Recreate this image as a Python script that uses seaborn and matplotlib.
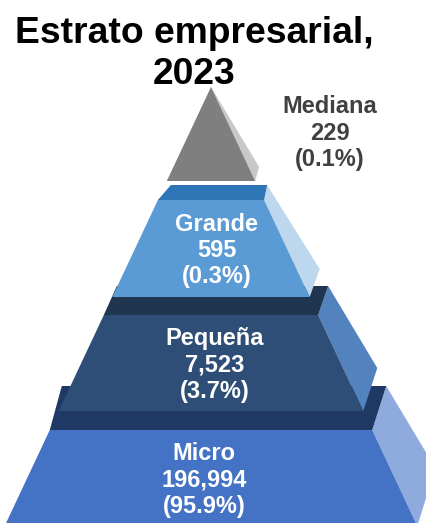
import matplotlib.pyplot as plt
import seaborn as sns
from matplotlib.patches import Polygon

# Datos (de la cúspide a la base)
estratos = ['Mediana', 'Grande', 'Pequeña', 'Micro']
empresas = [229, 595, 7523, 196994]
porcentajes = [0.1, 0.3, 3.7, 95.9]

# Colores: cara frontal, cara superior, cara lateral
color_frente = ['#7f7f7f', '#5b9bd5', '#2e4e77', '#4472c4']
color_arriba = ['#7f7f7f', '#2e75b6', '#203550', '#203864']
color_lado = ['#c8c8c8', '#bdd7ee', '#5283be', '#8faadc']
color_texto = ['#404040', 'white', 'white', 'white']

# Geometría de la pirámide (en píxeles de la figura)
ANCHO, ALTO = 426, 523
CENTRO, APICE, PENDIENTE = 211, 87, 0.47
nivel_arriba = [87, 200, 315, 430]
nivel_abajo = [181, 297, 411, 526]
prof_arriba = [(0, 0, 0), (13, 3, 15), (13, 10, 29), (12, 14, 44)]  # dx izq, dx der, dy
prof_abajo = [(4, 14), (10, 28), (14, 43), (18, 58)]
etiqueta_x = [330, 217, 215, 204]


def semiancho(y):
    return PENDIENTE * (y - APICE)


sns.set_theme(style='white')
plt.rcParams['font.family'] = ['Liberation Sans', 'DejaVu Sans']

fig = plt.figure(figsize=(ANCHO / 100, ALTO / 100), dpi=100)
ax = fig.add_axes([0, 0, 1, 1])
ax.set_xlim(0, ANCHO)
ax.set_ylim(ALTO, 0)
ax.axis('off')

# Dibujar desde la base hacia arriba para que los niveles superiores tapen a los inferiores
for i in reversed(range(len(estratos))):
    ya, yb = nivel_arriba[i], nivel_abajo[i]
    ha, hb = semiancho(ya), semiancho(yb)
    fl, fr = (CENTRO - ha, ya), (CENTRO + ha, ya)
    bl, br = (CENTRO - hb, yb), (CENTRO + hb, yb)
    dxl, dxr, dy = prof_arriba[i]
    dxb, dyb = prof_abajo[i]
    tl, tr = (fl[0] + dxl, ya - dy), (fr[0] + dxr, ya - dy)
    back_b = (br[0] + dxb, yb - dyb)

    # cara lateral
    ax.add_patch(Polygon([fr, tr, back_b, br], closed=True, color=color_lado[i], lw=0))
    # cara superior
    if dy > 0:
        ax.add_patch(Polygon([fl, tl, tr, fr], closed=True, color=color_arriba[i], lw=0))
    # cara frontal
    ax.add_patch(Polygon([fl, fr, br, bl], closed=True, color=color_frente[i], lw=0))

    texto = f'{estratos[i]}\n{empresas[i]:,}\n({porcentajes[i]:.1f}%)'
    y_txt = 133 if i == 0 else (ya + yb) / 2 + 2
    ax.text(etiqueta_x[i], y_txt, texto, ha='center', va='center',
            fontsize=17, fontweight='bold', color=color_texto[i], linespacing=1.17)

fig.text(194 / ANCHO, 1 - 54 / ALTO, 'Estrato empresarial,\n2023', ha='center', va='center',
         fontsize=26.8, fontweight='bold', color='black', linespacing=1.25)

fig.savefig('out.png', dpi=100)
